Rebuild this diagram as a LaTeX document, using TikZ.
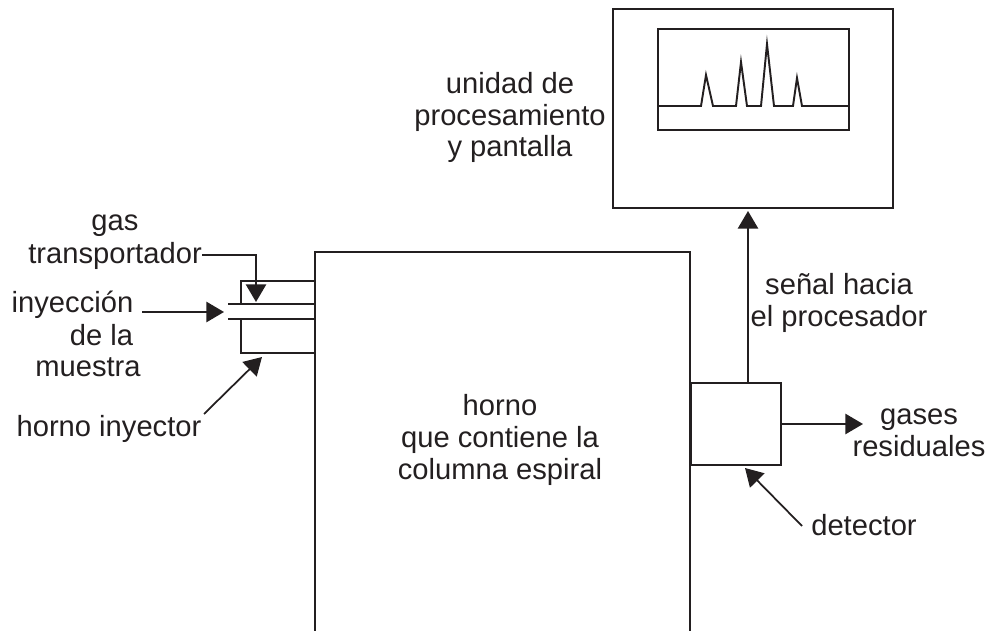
\documentclass[tikz,border=0pt]{standalone}
\usepackage{fontspec}
\setmainfont{Liberation Sans}
\usetikzlibrary{calc, positioning, arrows.meta}

\definecolor{ink}{HTML}{231F20}

\tikzset{
  box/.style={draw=ink, line width=1.1pt, rectangle, inner sep=0, outer sep=0},
  lbl/.style={text=ink, font=\fontsize{16.6}{18}\selectfont, inner sep=0, align=center},
  pointer/.style={draw=ink, line width=1pt, -{Triangle[length=10pt, width=11.5pt]}},
}

\begin{document}
\begin{tikzpicture}[x=0.02cm, y=-0.02cm]

  \useasboundingbox (0,0) rectangle (991,631);

  % boxes
  \node[box, minimum width=5.6cm, minimum height=3.98cm] (unit) at (753,108.5) {};
  \node[box, minimum width=3.82cm, minimum height=2.02cm] (screen) at (753.5,79.5) {};
  \node[box, minimum width=1.8cm, minimum height=1.64cm] (detector) at (736,424) {};
  \node[box, minimum width=1.48cm, minimum height=1.44cm] (injector) at (278,317) {};

  % oven, open at the bottom
  \coordinate (oven-bl) at (315,631);
  \coordinate (oven-tl) at (315,252);
  \coordinate (oven-tr) at (690,252);
  \coordinate (oven-br) at (690,631);
  \draw[ink, line width=1.1pt] (oven-bl) to (oven-tl) to (oven-tr) to (oven-br);

  % injection tube
  \fill[white] (238,305) rectangle (244,318);
  \draw[ink, line width=1.1pt] (228,304) to (315,304);
  \draw[ink, line width=1.1pt] (228,319) to (315,319);

  % chromatogram
  \draw[ink, line width=1.1pt, line join=miter, miter limit=20] (screen.west |- 0,106) to (701,106)
    to (706,75) to (713,106) to (736,106) to (741,62) to (747,106)
    to (761,106) to (767,44) to (774,106) to (793,106) to (797,78)
    to (802,106) to (screen.east |- 0,106);

  % labels
  \node[lbl] (unit-lbl) at (510,117.5) {unidad de\\procesamiento\\y pantalla};
  \node[lbl] (gas-lbl) at (115,242) {gas\\[1pt]transportador};
  \node[lbl] (inyeccion-lbl) at (72.5,305) {inyección};
  \node[lbl] (dela-lbl) at (101.5,335) {de la};
  \node[lbl] (muestra-lbl) at (88,367) {muestra};
  \node[lbl] (inyector-lbl) at (109,429) {horno inyector};
  \node[lbl] (oven-lbl) at (500,440) {horno\\que contiene la\\columna espiral};
  \node[lbl] (signal-lbl) at (839,303) {señal hacia\\el procesador};
  \node[lbl] (waste-lbl) at (919,432.5) {gases\\residuales};
  \node[lbl] (detector-lbl) at (864,525) {detector};

  % arrows
  \coordinate (gas-tip) at (256,302);
  \coordinate (sample-tail) at (142,312);
  \coordinate (sample-tip) at (224,312);
  \coordinate (inyector-tail) at (204,414);
  \coordinate (inyector-tip) at (262,357);
  \coordinate (detector-tail) at (802,526);
  \coordinate (detector-tip) at (745,468);
  \coordinate (waste-tip) at (863,424);
  \coordinate (unit-tip) at (748,211);

  \draw[pointer] (gas-lbl.east |- 0,255) to (256,255) to (gas-tip);
  \draw[pointer] (sample-tail) to (sample-tip);
  \draw[pointer] (inyector-tail) to (inyector-tip);
  \draw[pointer] (detector-tail) to (detector-tip);
  \draw[pointer] (detector.east) to (waste-tip);
  \draw[pointer] (detector.north -| unit-tip) to (unit-tip);

\end{tikzpicture}
\end{document}
